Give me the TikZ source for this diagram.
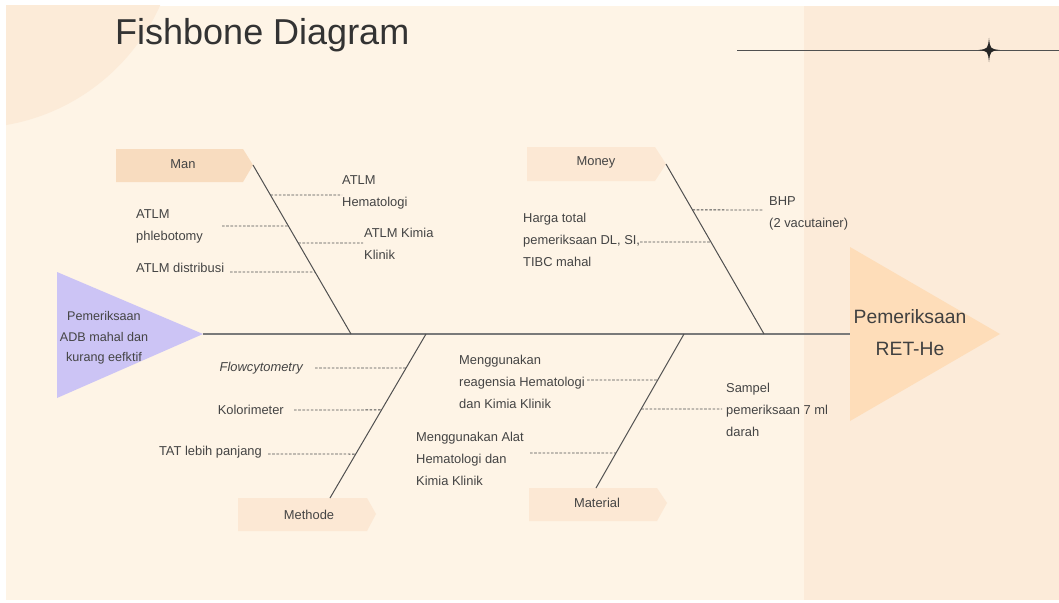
\documentclass[tikz,border=0pt]{standalone}
\usepackage{fontspec}
\setmainfont{Liberation Sans}
\usetikzlibrary{calc}
\definecolor{bgc}{HTML}{FEF4E6}
\definecolor{panelc}{HTML}{FCEBD9}
\definecolor{circc}{HTML}{FCEBD8}
\definecolor{manc}{HTML}{F8DCBF}
\definecolor{boxc}{HTML}{FCE8D4}
\definecolor{headc}{HTML}{FEDDB9}
\definecolor{tailc}{HTML}{CCC4F5}
\definecolor{txtc}{HTML}{444444}
\definecolor{bonec}{HTML}{505050}
\definecolor{spinec}{HTML}{7A7A7A}
\tikzset{
  lbl/.style={inner sep=0pt, text=txtc, font=\fontsize{12.9}{22}\selectfont, align=left},
  boxlbl/.style={inner sep=0pt, text=txtc, font=\fontsize{12.9}{15}\selectfont},
  bone/.style={draw=bonec, line width=1pt},
  sub/.style={draw=bonec, line width=0.9pt, dash pattern=on 2.6pt off 1.6pt},
}
\begin{document}
\begin{tikzpicture}[x=1pt,y=-1pt]
\useasboundingbox (0,0) rectangle (1059,602);
\fill[white] (0,0) rectangle (1059,602);
\fill[bgc] (6,6) rectangle (1059,600);
\begin{scope}
\clip (6,6) rectangle (1059,600);
\fill[circc] (-29,-79) circle[radius=207];
\end{scope}
\fill[panelc] (804,6) rectangle (1059,600);

% title and decoration
\node[anchor=base west, inner sep=0pt, text=black!80, font=\fontsize{36}{40}\selectfont] (title) at (115,45) {Fishbone Diagram};
\coordinate (ls) at (737,50);
\coordinate (le) at (1059,50);
\draw[bonec, line width=0.9pt] (ls) -- (le);
\fill[black!85] (989,38) .. controls (990.2,48.8) .. (999.5,50) .. controls (990.2,51.2) .. (989,62) .. controls (987.8,51.2) .. (978.5,50) .. controls (987.8,48.8) .. (989,38) -- cycle;

% head and tail
\fill[tailc] (57,272) -- (203,334) -- (57,398) -- cycle;
\fill[headc] (850,247) -- (1000,334) -- (850,421) -- cycle;
\node[lbl, align=center, font=\fontsize{12.6}{20.7}\selectfont] (tail) at (104,338) {Pemeriksaan\\ADB mahal dan\\kurang eefktif};
\node[lbl, align=center, font=\fontsize{19.3}{32}\selectfont, text=black!75] (head) at (910,333) {Pemeriksaan\\RET-He};
\coordinate (sp1) at (203,334);
\coordinate (sp2) at (850,334);
\draw[spinec, line width=1.3pt] (sp1) -- (sp2);

% category boxes
\fill[manc] (116,149) -- (243,149) -- (253,165) -- (243,182) -- (116,182) -- cycle;
\fill[boxc] (527,147) -- (655,147) -- (666,164) -- (655,181) -- (527,181) -- cycle;
\fill[boxc] (238,498) -- (367,498) -- (376,514) -- (367,531) -- (238,531) -- cycle;
\fill[boxc] (529,488) -- (657,488) -- (667,503) -- (657,521) -- (529,521) -- cycle;
\node[boxlbl] (man) at (183,164.5) {Man};
\node[boxlbl] (money) at (596,162.5) {Money};
\node[boxlbl] (methode) at (309,514.5) {Methode};
\node[boxlbl] (material) at (597,502.5) {Material};

% bones
\coordinate (manT) at (253,165);   \coordinate (manB) at (351,334);
\coordinate (monT) at (666,164);   \coordinate (monB) at (764,334);
\coordinate (metB) at (330,498);   \coordinate (metT) at (426,334);
\coordinate (matB) at (596,488);   \coordinate (matT) at (684,334);
\draw[bone] (manT) -- (manB);
\draw[bone] (monT) -- (monB);
\draw[bone] (metB) -- (metT);
\draw[bone] (matB) -- (matT);

% Man causes
\node[lbl, anchor=west] (hema) at (342,192.5) {ATLM\\Hematologi};
\node[lbl, anchor=west] (phleb) at (136,226) {ATLM\\phlebotomy};
\node[lbl, anchor=west] (kimia) at (364,243.5) {ATLM Kimia\\Klinik};
\node[lbl, anchor=west] (distr) at (136,267.5) {ATLM distribusi};
\coordinate (m1) at ($(manT)!0.1775!(manB)$);
\coordinate (m2) at ($(manT)!0.361!(manB)$);
\coordinate (m3) at ($(manT)!0.4615!(manB)$);
\coordinate (m4) at ($(manT)!0.633!(manB)$);
\coordinate (e1) at (342,195);
\coordinate (e2) at (222,226);
\coordinate (e3) at (363,243);
\coordinate (e4) at (230,272);
\draw[sub] (m1) -- (e1);
\draw[sub] (e2) -- (m2);
\draw[sub] (m3) -- (e3);
\draw[sub] (e4) -- (m4);

% Money causes
\node[lbl, anchor=west] (bhp) at (769,213) {BHP\\(2 vacutainer)};
\node[lbl, anchor=west] (harga) at (523,239.5) {Harga total\\pemeriksaan DL, SI,\\TIBC mahal};
\coordinate (n1) at ($(monT)!0.27!(monB)$);
\coordinate (n2) at ($(monT)!0.459!(monB)$);
\coordinate (f1) at (763,210);
\coordinate (f2) at (640,242);
\draw[sub] (n1) -- (f1);
\draw[sub] (f2) -- (n2);

% Methode causes
\node[lbl, anchor=east, font=\fontsize{12.9}{22}\selectfont\itshape] (flow) at (303,368.5) {Flowcytometry};
\node[lbl, anchor=east] (kolo) at (284,409.5) {Kolorimeter};
\node[lbl, anchor=east] (tat) at (262,452.5) {TAT lebih panjang};
\coordinate (t1) at ($(metB)!0.793!(metT)$);
\coordinate (t2) at ($(metB)!0.537!(metT)$);
\coordinate (t3) at ($(metB)!0.268!(metT)$);
\coordinate (g1) at (315,368);
\coordinate (g2) at (294,410);
\coordinate (g3) at (268,454);
\draw[sub] (g1) -- (t1);
\draw[sub] (g2) -- (t2);
\draw[sub] (g3) -- (t3);

% Material causes
\node[lbl, anchor=west] (reag) at (459,381.5) {Menggunakan\\reagensia Hematologi\\dan Kimia Klinik};
\node[lbl, anchor=west] (sampel) at (726,409.5) {Sampel\\pemeriksaan 7 ml\\darah};
\node[lbl, anchor=west] (alat) at (416,458.5) {Menggunakan Alat\\Hematologi dan\\Kimia Klinik};
\coordinate (u1) at ($(matB)!0.701!(matT)$);
\coordinate (u2) at ($(matB)!0.513!(matT)$);
\coordinate (u3) at ($(matB)!0.227!(matT)$);
\coordinate (h1) at (587,380);
\coordinate (h2) at (722,409);
\coordinate (h3) at (530,453);
\draw[sub] (h1) -- (u1);
\draw[sub] (u2) -- (h2);
\draw[sub] (h3) -- (u3);
\end{tikzpicture}
\end{document}
